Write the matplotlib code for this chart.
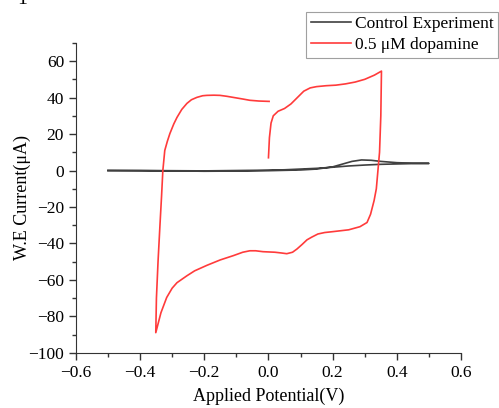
import matplotlib
matplotlib.use("Agg")
import matplotlib.pyplot as plt
from matplotlib.ticker import MultipleLocator

plt.rcParams['font.family'] = ['Liberation Serif', 'DejaVu Serif']
plt.rcParams['axes.unicode_minus'] = True

# Control experiment (forward then reverse scan)
ctrl_x = [-0.5, -0.4, -0.3, -0.2, -0.1, 0.0, 0.1, 0.15, 0.2, 0.23, 0.26, 0.29, 0.32, 0.35, 0.4, 0.45, 0.5,
          0.45, 0.4, 0.35, 0.3, 0.25, 0.2, 0.15, 0.1, 0.05, 0.0, -0.1, -0.2, -0.3, -0.4, -0.5]
ctrl_y = [0.0, -0.1, -0.2, -0.4, -0.3, -0.1, 0.3, 0.8, 2.0, 3.5, 5.0, 5.8, 5.6, 5.0, 4.3, 4.0, 3.9,
          3.8, 3.6, 3.4, 3.0, 2.5, 1.8, 1.2, 0.8, 0.4, 0.2, 0.0, -0.2, -0.1, 0.0, 0.0]

# 0.5 uM dopamine CV
dop_x = [0.000, 0.003, 0.008, 0.015, 0.03, 0.05, 0.07, 0.09, 0.11, 0.13, 0.15, 0.18, 0.21, 0.24, 0.27, 0.30, 0.33, 0.352,
         0.350, 0.346, 0.341, 0.336, 0.329, 0.318, 0.307, 0.285, 0.25, 0.201, 0.175, 0.154, 0.135, 0.12, 0.105, 0.089,
         0.075, 0.057, 0.04, 0.02, -0.017, -0.04, -0.058, -0.08, -0.11, -0.15, -0.192, -0.23, -0.254, -0.285, -0.30,
         -0.317, -0.335, -0.351,
         -0.349, -0.344, -0.338, -0.333, -0.329, -0.323, -0.315, -0.307, -0.295, -0.285, -0.27, -0.254, -0.24, -0.223,
         -0.205, -0.192, -0.17, -0.151, -0.13, -0.11, -0.08, -0.058, -0.03, 0.002]
dop_y = [7, 18, 26, 30, 32.5, 34, 36.5, 40, 43.5, 45.3, 46, 46.5, 46.8, 47.5, 48.5, 50, 52.3, 54.5,
         30, 10, 0, -10, -16.5, -24, -28.5, -30.8, -32.5, -33.5, -34, -34.8, -36.5, -38, -40.5, -43,
         -44.8, -45.6, -45.2, -44.8, -44.5, -44, -44, -44.8, -46.7, -49, -52, -55, -57.7, -61.5, -64.5,
         -69.6, -78, -88.9,
         -70, -50, -30, -14, 0, 11, 16, 20.3, 25.5, 29.1, 33.5, 36.8, 38.8, 40.1,
         41, 41.2, 41.3, 41.2, 40.7, 40.1, 39.2, 38.5, 38.1, 37.9]

labels = ["Control Experiment", "0.5 \u03bcM dopamine"]

fig = plt.figure(figsize=(4.99, 4.08), dpi=100)
ax = fig.add_axes([0.152, 0.135, 0.772, 0.76])
ax.plot(ctrl_x, ctrl_y, color='#404040', lw=1.2, label=labels[0])
ax.plot(dop_x, dop_y, color='#ff3b3b', lw=1.2, label=labels[1])

ax.set_xlim(-0.6, 0.6)
ax.set_ylim(-100, 70)
ax.xaxis.set_major_locator(MultipleLocator(0.2))
ax.xaxis.set_minor_locator(MultipleLocator(0.1))
ax.yaxis.set_major_locator(MultipleLocator(20))
ax.yaxis.set_minor_locator(MultipleLocator(10))
ax.set_xticks([-0.6, -0.4, -0.2, 0.0, 0.2, 0.4, 0.6])
ax.set_xticklabels(['\u22120.6', '\u22120.4', '\u22120.2', '0.0', '0.2', '0.4', '0.6'])
for s in ['top', 'right']:
    ax.spines[s].set_visible(False)
for s in ['left', 'bottom']:
    ax.spines[s].set_color('#333333')
ax.tick_params(which='major', length=5, width=1, color='#333333', labelsize=12.5)
ax.tick_params(which='minor', length=3, width=1, color='#333333')
ax.set_xlabel('Applied Potential(V)', fontsize=13, labelpad=5)
ax.set_ylabel('W.E Current(\u03bcA)', fontsize=13, labelpad=-2)

leg = ax.legend(loc='upper right', bbox_to_anchor=(1.096, 1.1), fontsize=12.5, frameon=True, fancybox=False,
                handlelength=2.35, handletextpad=0.2, borderpad=0.25, labelspacing=0.27, borderaxespad=0)
leg.get_frame().set_edgecolor('#888888')
leg.get_frame().set_linewidth(0.8)

fig.text(0.045, 1.0, '1', fontsize=14, va='center', ha='center')

fig.savefig('out.png', dpi=100)
